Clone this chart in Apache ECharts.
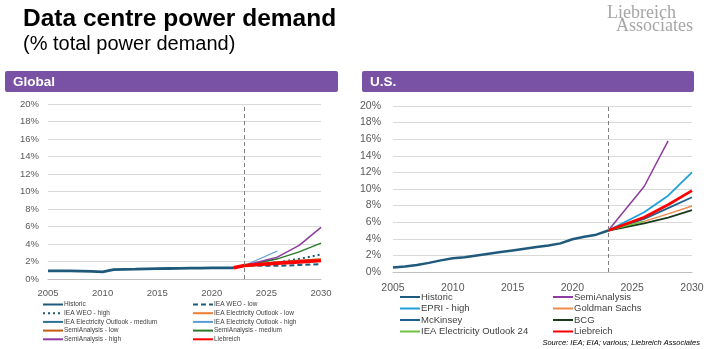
<!DOCTYPE html>
<html><head><meta charset="utf-8">
<script src="https://cdn.jsdelivr.net/npm/echarts@6/dist/echarts.min.js"></script>
<style>html,body{margin:0;padding:0;background:#fff}#c{width:714px;height:349px}</style>
</head><body><div id="c"></div>
<script>
// ---- Global (left) ----
const gHistYears = [2005,2006,2007,2008,2009,2010,2011,2012,2013,2014,2015,2016,2017,2018,2019,2020,2021,2022];
const gHistVals  = [0.92,0.92,0.92,0.91,0.88,0.82,1.08,1.1,1.12,1.15,1.18,1.2,1.22,1.24,1.25,1.26,1.27,1.28];
const gProjYears = [2022,2023,2026,2028,2030];
const gWeoLow    = [1.28,1.55,1.5,1.6,1.7];
const gWeoHigh   = [1.28,1.55,1.9,2.3,2.8];
const gEoYears   = [2022,2023,2026];
const gEoLow     = [1.28,1.55,1.85];
const gEoMed     = [1.28,1.55,2.3];
const gEoHigh    = [1.28,1.55,3.2];
const gSaLow     = [1.28,1.55,1.95,2.15,2.3];
const gSaMed     = [1.28,1.55,2.3,3.1,4.1];
const gSaHigh    = [1.28,1.55,2.5,3.85,5.9];
const gLieb      = [1.28,1.55,1.8,1.95,2.1];
// ---- U.S. (right) ----
const uHistYears = [2005,2006,2007,2008,2009,2010,2011,2012,2013,2014,2015,2016,2017,2018,2019,2020,2021,2022,2023];
const uHistVals  = [0.55,0.65,0.85,1.1,1.4,1.65,1.78,2.0,2.2,2.4,2.6,2.8,3.0,3.2,3.45,3.95,4.25,4.5,5.0];
const uProjYears = [2023,2026,2028,2030];
const uSemi      = [5.0,10.3,15.8];
const uEpri      = [5.0,7.2,9.2,12.0];
const uMck       = [5.0,6.4,7.7,9.0];
const uIea24Years= [2023,2024,2026];
const uIea24     = [5.0,5.4,6.1];
const uGs        = [5.0,6.1,7.0,7.95];
const uBcg       = [5.0,5.85,6.55,7.45];
const uLieb      = [5.0,6.6,8.1,9.8];

const yTicks = {min:0,max:20,interval:2};
const xTicks = {min:2005,max:2030,interval:5};

function pts(xs, ys){ return ys.map((v,i)=>[xs[i],v]); }
function ser(name, g, xs, ys, color, width, type, z){
  return {name, type:'line', xAxisIndex:g, yAxisIndex:g, data:pts(xs,ys), symbol:'none',
    lineStyle:{color, width, type:type||'solid'}, itemStyle:{color}, z:z||2, animation:false};
}
const C = {hist:'#1f5a7c', purple:'#8e3a9e', green:'#2a7a2a', orange:'#ed7d31', lblue:'#5b9bd5',
  med:'#2f6f94', dorange:'#c55a11', red:'#ff0000', epri:'#1fa0d8', mck:'#1f5f8b', gs:'#f08a4b', bcg:'#1b3a1b', iea24:'#70c040'};

const series = [
  ser('Historic',0,gHistYears,gHistVals,C.hist,2.8,'solid',3),
  ser('IEA WEO - low',0,gProjYears,gWeoLow,C.hist,2,[5,3]),
  ser('IEA WEO - high',0,gProjYears,gWeoHigh,C.hist,2,[2,3]),
  ser('IEA Electricity Outlook - low',0,gEoYears,gEoLow,C.orange,1.2),
  ser('IEA Electricity Outlook - medium',0,gEoYears,gEoMed,C.med,1.2),
  ser('IEA Electricity Outlook - high',0,gEoYears,gEoHigh,C.lblue,1.2),
  ser('SemiAnalysis - low',0,gProjYears,gSaLow,C.dorange,1.5),
  ser('SemiAnalysis - medium',0,gProjYears,gSaMed,C.green,1.5),
  ser('SemiAnalysis - high',0,gProjYears,gSaHigh,C.purple,1.5),
  ser('Liebreich',0,gProjYears,gLieb,C.red,3.5,'solid',4),
  ser('Historic',1,uHistYears,uHistVals,C.hist,2.5,'solid',3),
  ser('SemiAnalysis',1,uProjYears,uSemi,C.purple,1.5),
  ser('EPRI - high',1,uProjYears,uEpri,C.epri,1.8),
  ser('Goldman Sachs',1,uProjYears,uGs,C.gs,1.5),
  ser('McKinsey',1,uProjYears,uMck,C.mck,1.8),
  ser('BCG',1,uProjYears,uBcg,C.bcg,1.8),
  ser('IEA Electricity Outlook 24',1,uIea24Years,uIea24,C.iea24,1.5),
  ser('Liebreich',1,uProjYears,uLieb,C.red,2.8,'solid',4)
];
// dashed "today" lines
[0,1].forEach(g=>{
  series.push({type:'line', xAxisIndex:g, yAxisIndex:g, data:[], silent:true, animation:false,
    markLine:{symbol:'none', silent:true, label:{show:false},
      lineStyle:{color:'#7f7f7f', type:[4,3], width:1}, data:[{xAxis:2023}]}});
});

const font = 'Liberation Sans';
function xAxis(g, fs, margin){ return {type:'value', gridIndex:g, ...xTicks, splitLine:{show:false},
  axisLine:{lineStyle:{color:'#bfbfbf'}}, axisTick:{show:false},
  axisLabel:{color:'#595959', fontSize:fs, fontFamily:font, margin, formatter:v=>String(v)}}; }
function yAxis(g, fs, margin){ return {type:'value', gridIndex:g, ...yTicks,
  axisLine:{show:false}, axisTick:{show:false}, splitLine:{lineStyle:{color:'#d9d9d9'}},
  axisLabel:{color:'#595959', fontSize:fs, fontFamily:font, margin, formatter:'{value}%'}}; }
function legend(names, left, top, fs, gap, ih){ return {data:names, orient:'vertical', left, top, height:60, width:160,
  itemWidth:20, itemHeight:ih, itemGap:gap, selectedMode:false,
  itemStyle:{opacity:0, borderWidth:0},
  textStyle:{fontSize:fs, color:'#404040', fontFamily:font, padding:[0,0,0,-4]}, padding:0}; }

const option = {
  animation:false,
  grid:[{left:48, right:393, top:104, bottom:70},{left:393, right:22, top:106, bottom:77}],
  xAxis:[xAxis(0,9.5,9), xAxis(1,10.5,11)],
  yAxis:[yAxis(0,9.5,9), yAxis(1,10.5,12)],
  legend:[
    legend(['Historic','IEA WEO - high','IEA Electricity Outlook - medium','SemiAnalysis - low','SemiAnalysis - high'],42,301,6.5,1.7,7),
    legend(['IEA WEO - low','IEA Electricity Outlook - low','IEA Electricity Outlook - high','SemiAnalysis - medium','Liebreich'],192,301,6.5,1.7,7),
    legend(['Historic','EPRI - high','McKinsey','IEA Electricity Outlook 24'],399,292,9.5,1.5,10),
    legend(['SemiAnalysis','Goldman Sachs','BCG','Liebreich'],552,292,9.5,1.5,10)
  ],
  graphic:[
    {type:'text', left:23, top:7, style:{text:'Data centre power demand', font:'bold 24.5px "Liberation Sans"', fill:'#000'}},
    {type:'text', left:23, top:34, style:{text:'(% total power demand)', font:'20px "Liberation Sans"', fill:'#000'}},
    {type:'text', left:607, top:4, style:{text:'Liebreich', font:'18px "Liberation Serif"', fill:'#a6a6a6'}},
    {type:'text', left:616, top:17, style:{text:'Associates', font:'18px "Liberation Serif"', fill:'#a6a6a6'}},
    {type:'rect', shape:{x:5, y:71, width:333, height:21, r:2}, style:{fill:'#7952a6'}},
    {type:'text', left:13, top:75, style:{text:'Global', font:'bold 13.5px "Liberation Sans"', fill:'#fff'}},
    {type:'rect', shape:{x:362, y:71, width:332, height:21, r:2}, style:{fill:'#7952a6'}},
    {type:'text', left:370, top:75, style:{text:'U.S.', font:'bold 13.5px "Liberation Sans"', fill:'#fff'}},
    {type:'text', right:14, top:339, style:{text:'Source: IEA; EIA; various; Liebreich Associates', font:'italic 7.5px "Liberation Sans"', fill:'#000'}}
  ],
  series
};
const chart = echarts.init(document.getElementById('c'), null, {renderer:'canvas'});
chart.setOption(option);
</script></body></html>
